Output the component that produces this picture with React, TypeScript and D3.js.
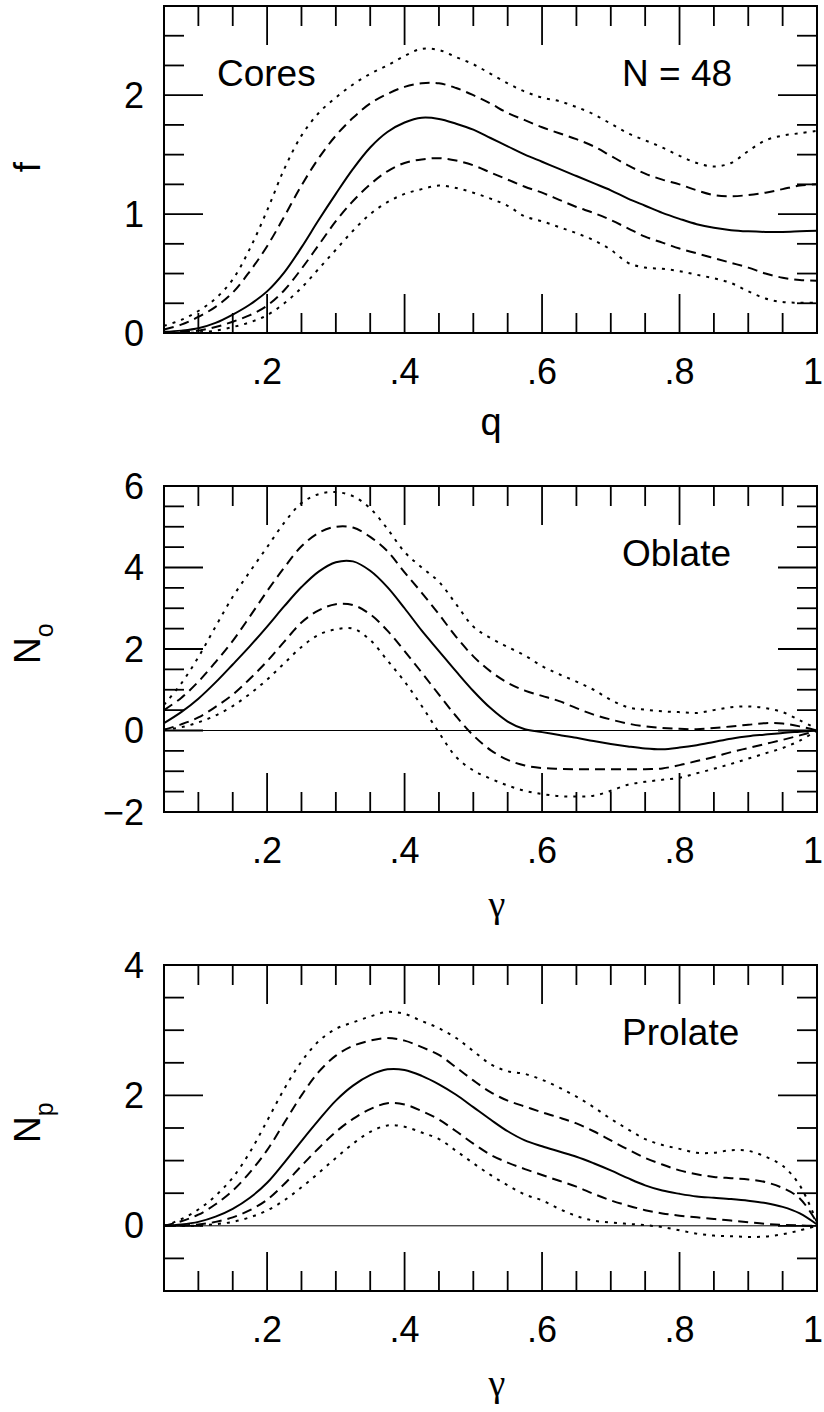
import React from 'react';
import * as d3 from 'd3';

// sampling grid shared by every curve (q for Cores, gamma for the others)
const grid = [
  0.05, 0.075, 0.1, 0.125, 0.15, 0.175, 0.2, 0.225, 0.25, 0.275,
  0.3, 0.325, 0.35, 0.375, 0.4, 0.425, 0.45, 0.475, 0.5, 0.525,
  0.55, 0.575, 0.6, 0.625, 0.65, 0.675, 0.7, 0.725, 0.75, 0.775,
  0.8, 0.825, 0.85, 0.875, 0.9, 0.925, 0.95, 0.975, 1.0,
];

// Cores, f(q)
const coresMid = [0.01, 0.02, 0.04, 0.085, 0.155, 0.24, 0.35, 0.51, 0.72, 0.95, 1.17, 1.38, 1.56, 1.69, 1.77, 1.81, 1.80, 1.76, 1.71, 1.64, 1.57, 1.50, 1.44, 1.38, 1.32, 1.26, 1.20, 1.13, 1.07, 1.01, 0.96, 0.915, 0.885, 0.865, 0.855, 0.85, 0.85, 0.855, 0.86];
const coresHi1 = [0.03, 0.07, 0.135, 0.22, 0.34, 0.52, 0.73, 0.98, 1.24, 1.47, 1.66, 1.81, 1.93, 2.01, 2.07, 2.10, 2.10, 2.06, 2.00, 1.93, 1.85, 1.79, 1.73, 1.68, 1.63, 1.57, 1.49, 1.41, 1.34, 1.29, 1.25, 1.20, 1.16, 1.15, 1.16, 1.18, 1.21, 1.24, 1.25];
const coresLo1 = [0.0, 0.01, 0.02, 0.05, 0.095, 0.15, 0.23, 0.36, 0.54, 0.74, 0.94, 1.11, 1.25, 1.36, 1.43, 1.46, 1.47, 1.45, 1.41, 1.35, 1.29, 1.23, 1.18, 1.12, 1.06, 1.01, 0.95, 0.88, 0.81, 0.76, 0.71, 0.67, 0.63, 0.59, 0.55, 0.50, 0.465, 0.445, 0.44];
const coresHi2 = [0.06, 0.11, 0.185, 0.29, 0.45, 0.71, 1.03, 1.38, 1.66, 1.85, 1.98, 2.09, 2.18, 2.25, 2.33, 2.39, 2.38, 2.32, 2.26, 2.18, 2.10, 2.03, 1.98, 1.95, 1.90, 1.84, 1.76, 1.68, 1.62, 1.56, 1.49, 1.43, 1.40, 1.43, 1.53, 1.62, 1.66, 1.68, 1.70];
const coresLo2 = [0.0, 0.0, 0.005, 0.02, 0.05, 0.09, 0.15, 0.25, 0.38, 0.54, 0.70, 0.86, 1.00, 1.10, 1.17, 1.21, 1.24, 1.22, 1.18, 1.13, 1.07, 0.98, 0.94, 0.89, 0.84, 0.78, 0.70, 0.59, 0.55, 0.54, 0.52, 0.49, 0.46, 0.42, 0.35, 0.29, 0.26, 0.255, 0.255];

// Oblate, N_o(gamma)
const oblateMid = [0.18, 0.45, 0.78, 1.18, 1.62, 2.07, 2.55, 3.05, 3.52, 3.90, 4.13, 4.15, 3.92, 3.52, 3.0, 2.45, 1.95, 1.45, 0.97, 0.55, 0.22, 0.03, -0.04, -0.11, -0.18, -0.26, -0.33, -0.39, -0.44, -0.46, -0.42, -0.36, -0.28, -0.20, -0.14, -0.10, -0.06, -0.03, 0.0];
const oblateHi1 = [0.5, 0.8, 1.2, 1.68, 2.2, 2.8, 3.42, 4.0, 4.52, 4.85, 5.0, 4.98, 4.75, 4.40, 3.88, 3.38, 2.85, 2.3, 1.82, 1.45, 1.17, 0.98, 0.85, 0.72, 0.55, 0.39, 0.27, 0.17, 0.10, 0.06, 0.04, 0.03, 0.06, 0.10, 0.14, 0.18, 0.17, 0.10, 0.0];
const oblateLo1 = [0.02, 0.15, 0.32, 0.58, 0.88, 1.27, 1.70, 2.18, 2.65, 2.95, 3.10, 3.08, 2.85, 2.45, 1.95, 1.42, 0.88, 0.35, -0.12, -0.48, -0.72, -0.86, -0.92, -0.94, -0.95, -0.95, -0.95, -0.95, -0.95, -0.93, -0.85, -0.75, -0.65, -0.53, -0.43, -0.33, -0.23, -0.12, 0.0];
const oblateHi2 = [0.63, 1.15, 1.8, 2.55, 3.28, 3.9, 4.5, 5.1, 5.58, 5.8, 5.85, 5.75, 5.45, 4.95, 4.38, 4.0, 3.65, 3.1, 2.55, 2.27, 2.05, 1.84, 1.58, 1.38, 1.2, 1.0, 0.75, 0.57, 0.51, 0.47, 0.45, 0.43, 0.50, 0.57, 0.59, 0.55, 0.45, 0.25, 0.04];
const oblateLo2 = [0.02, 0.08, 0.2, 0.37, 0.6, 0.9, 1.25, 1.65, 2.05, 2.35, 2.48, 2.5, 2.22, 1.72, 1.2, 0.6, -0.05, -0.65, -0.98, -1.18, -1.35, -1.48, -1.56, -1.61, -1.62, -1.60, -1.48, -1.33, -1.26, -1.21, -1.16, -1.05, -0.94, -0.82, -0.69, -0.56, -0.43, -0.25, 0.0];

// Prolate, N_p(gamma)
const prolateMid = [0.0, 0.02, 0.06, 0.14, 0.26, 0.43, 0.66, 0.97, 1.30, 1.62, 1.92, 2.15, 2.31, 2.40, 2.39, 2.30, 2.17, 2.01, 1.82, 1.63, 1.45, 1.31, 1.22, 1.14, 1.06, 0.96, 0.85, 0.73, 0.62, 0.54, 0.49, 0.45, 0.43, 0.41, 0.385, 0.35, 0.29, 0.19, 0.02];
const prolateHi1 = [0.0, 0.07, 0.17, 0.33, 0.54, 0.82, 1.16, 1.58, 2.0, 2.36, 2.61, 2.76, 2.84, 2.88, 2.84, 2.74, 2.62, 2.43, 2.23, 2.05, 1.92, 1.83, 1.74, 1.66, 1.57, 1.45, 1.31, 1.17, 1.04, 0.94, 0.85, 0.79, 0.75, 0.73, 0.71, 0.67, 0.58, 0.42, 0.05];
const prolateLo1 = [0.0, 0.005, 0.02, 0.06, 0.13, 0.24, 0.40, 0.64, 0.92, 1.19, 1.44, 1.64, 1.79, 1.88, 1.86, 1.76, 1.63, 1.45, 1.26, 1.09, 0.97, 0.87, 0.78, 0.69, 0.60, 0.49, 0.39, 0.31, 0.24, 0.19, 0.155, 0.13, 0.105, 0.08, 0.055, 0.03, 0.015, 0.005, 0.0];
const prolateHi2 = [0.0, 0.1, 0.25, 0.46, 0.74, 1.13, 1.61, 2.10, 2.52, 2.83, 3.02, 3.12, 3.21, 3.28, 3.25, 3.14, 3.03, 2.88, 2.68, 2.48, 2.37, 2.33, 2.24, 2.12, 1.98, 1.82, 1.64, 1.48, 1.33, 1.24, 1.18, 1.12, 1.12, 1.16, 1.15, 1.06, 0.92, 0.62, 0.05];
const prolateLo2 = [0.0, 0.0, 0.005, 0.025, 0.06, 0.13, 0.235, 0.39, 0.59, 0.81, 1.04, 1.26, 1.44, 1.54, 1.52, 1.43, 1.33, 1.15, 0.96, 0.78, 0.62, 0.48, 0.39, 0.26, 0.15, 0.08, 0.05, 0.03, 0.01, -0.02, -0.07, -0.12, -0.15, -0.16, -0.17, -0.165, -0.13, -0.07, 0.0];

// ticks
const xMajor = [0.2, 0.4, 0.6, 0.8, 1];
const xMajorLabels = ['.2', '.4', '.6', '.8', '1'];
const xMinor = [0.1, 0.15, 0.25, 0.3, 0.35, 0.45, 0.5, 0.55, 0.65, 0.7, 0.75, 0.85, 0.9, 0.95];

const coresYMajor = [0, 1, 2];
const coresYLabels = ['0', '1', '2'];
const coresYMinor = [0.25, 0.5, 0.75, 1.25, 1.5, 1.75, 2.25, 2.5];

const oblateYMajor = [-2, 0, 2, 4, 6];
const oblateYLabels = ['\u22122', '0', '2', '4', '6'];
const oblateYMinor = [-1.5, -1, -0.5, 0.5, 1, 1.5, 2.5, 3, 3.5, 4.5, 5, 5.5];

const prolateYMajor = [0, 2, 4];
const prolateYLabels = ['0', '2', '4'];
const prolateYMinor = [-0.5, 0.5, 1, 1.5, 2.5, 3, 3.5];

const W = 824;
const H = 1412;
const LEFT = 164;
const RIGHT = 817;
const MAJOR = 39;
const MINOR = 20;
const FONT = '"Liberation Sans", Arial, Helvetica, sans-serif';
const SERIF = '"Liberation Serif", "Times New Roman", serif';

const DASHED = '10,6';
const DOTTED = '3,6';

const x = d3.scaleLinear().domain([0.05, 1]).range([LEFT, RIGHT]);

const panels = [
  {
    key: 'cores', top: 6, bottom: 333, domain: [0, 2.75],
    yMajor: coresYMajor, yLabels: coresYLabels, yMinor: coresYMinor,
    zeroLine: false,
    series: [coresHi2, coresHi1, coresMid, coresLo1, coresLo2],
    xTitle: 'q', xTitleFont: FONT, xTitleX: 491, xTitleDy: 102,
    yTitle: 'f', ySub: '', yTitleY: 167, yAnchor: 'middle',
    notes: [
      { text: 'Cores', x: 217 },
      { text: 'N = 48', x: 622 },
    ],
  },
  {
    key: 'oblate', top: 486, bottom: 812, domain: [-2, 6],
    yMajor: oblateYMajor, yLabels: oblateYLabels, yMinor: oblateYMinor,
    zeroLine: true,
    series: [oblateHi2, oblateHi1, oblateMid, oblateLo1, oblateLo2],
    xTitle: '\u03b3', xTitleFont: SERIF, xTitleX: 497, xTitleDy: 105,
    yTitle: 'N', ySub: 'o', yTitleY: 664, yAnchor: 'start',
    notes: [{ text: 'Oblate', x: 622 }],
  },
  {
    key: 'prolate', top: 965, bottom: 1291, domain: [-1, 4],
    yMajor: prolateYMajor, yLabels: prolateYLabels, yMinor: prolateYMinor,
    zeroLine: true,
    series: [prolateHi2, prolateHi1, prolateMid, prolateLo1, prolateLo2],
    xTitle: '\u03b3', xTitleFont: SERIF, xTitleX: 497, xTitleDy: 105,
    yTitle: 'N', ySub: 'p', yTitleY: 1143, yAnchor: 'start',
    notes: [{ text: 'Prolate', x: 622 }],
  },
];

// outer dotted, inner dashed, solid median
const seriesDash = [DOTTED, DASHED, null, DASHED, DOTTED];

function Panel({ p }: { p: any }) {
  const y = d3.scaleLinear().domain(p.domain).range([p.bottom, p.top]);
  const line = d3.line<number>()
    .x((_, i) => x(grid[i]))
    .y(d => y(d))
    .curve(d3.curveCatmullRom.alpha(0.5));

  const tick = (x1: number, y1: number, x2: number, y2: number, k: string) => (
    <line key={k} x1={x1} y1={y1} x2={x2} y2={y2} stroke="#000" strokeWidth={1.8} />
  );

  return (
    <g>
      {p.zeroLine && (
        <line x1={LEFT} x2={RIGHT} y1={y(0)} y2={y(0)} stroke="#000" strokeWidth={1} />
      )}

      {p.series.map((vals: number[], i: number) => (
        <path
          key={i}
          d={line(vals) || ''}
          fill="none"
          stroke="#000"
          strokeWidth={2}
          strokeDasharray={seriesDash[i] || undefined}
        />
      ))}

      {/* x ticks, bottom and top, pointing inward */}
      {xMajor.map(t => tick(x(t), p.bottom, x(t), p.bottom - MAJOR, 'bM' + t))}
      {xMinor.map(t => tick(x(t), p.bottom, x(t), p.bottom - MINOR, 'bm' + t))}
      {xMajor.map(t => tick(x(t), p.top, x(t), p.top + MAJOR, 'tM' + t))}
      {xMinor.map(t => tick(x(t), p.top, x(t), p.top + MINOR, 'tm' + t))}

      {/* y ticks, left and right */}
      {p.yMajor.map((t: number) => tick(LEFT, y(t), LEFT + MAJOR, y(t), 'lM' + t))}
      {p.yMinor.map((t: number) => tick(LEFT, y(t), LEFT + MINOR, y(t), 'lm' + t))}
      {p.yMajor.map((t: number) => tick(RIGHT, y(t), RIGHT - MAJOR, y(t), 'rM' + t))}
      {p.yMinor.map((t: number) => tick(RIGHT, y(t), RIGHT - MINOR, y(t), 'rm' + t))}

      <rect
        x={LEFT} y={p.top} width={RIGHT - LEFT} height={p.bottom - p.top}
        fill="none" stroke="#000" strokeWidth={2}
      />

      {xMajor.map((t, i) => {
        // the last label sits on the page edge, keep it inside
        const last = i === xMajor.length - 1;
        return (
          <text key={'xl' + t} x={last ? W - 1 : x(t)} y={p.bottom + 51}
            textAnchor={last ? 'end' : 'middle'}
            fontFamily={FONT} fontSize={36}>{xMajorLabels[i]}</text>
        );
      })}
      {p.yMajor.map((t: number, i: number) => (
        <text key={'yl' + t} x={144} y={y(t) + 12.5} textAnchor="end"
          fontFamily={FONT} fontSize={36}>{p.yLabels[i]}</text>
      ))}

      <text x={p.xTitleX} y={p.bottom + p.xTitleDy} textAnchor="middle"
        fontFamily={p.xTitleFont} fontSize={38}>{p.xTitle}</text>

      <text transform={`translate(40, ${p.yTitleY}) rotate(-90)`} textAnchor={p.yAnchor}
        fontFamily={FONT} fontSize={37}>
        {p.yTitle}
        {p.ySub && <tspan fontSize={25} dy={13}>{p.ySub}</tspan>}
      </text>

      {p.notes.map((n: any) => (
        <text key={n.text} x={n.x} y={p.top + 80}
          fontFamily={FONT} fontSize={37}>{n.text}</text>
      ))}
    </g>
  );
}

export default function App() {
  return (
    <div style={{ position: 'absolute', left: 0, top: 0 }}>
      <svg width={W} height={H} style={{ display: 'block', background: '#fff' }}>
        <rect width={W} height={H} fill="#fff" />
        {panels.map(p => <Panel key={p.key} p={p} />)}
      </svg>
    </div>
  );
}
